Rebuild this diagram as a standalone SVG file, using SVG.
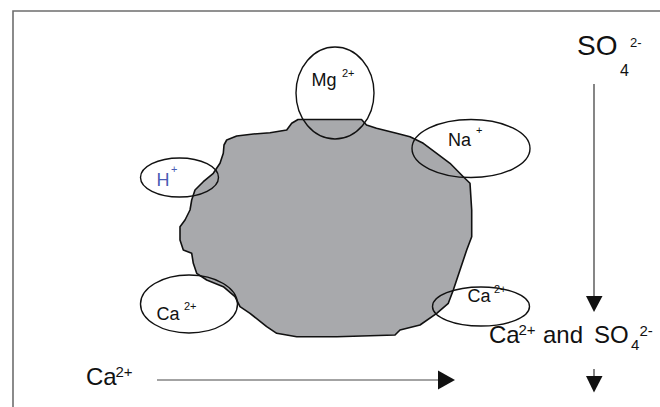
<svg xmlns="http://www.w3.org/2000/svg" width="660" height="407" viewBox="0 0 660 407">
  <style>
    text { font-family: "Liberation Sans", Arial, sans-serif; fill: #111; }
    .ion { fill: none; stroke: #111; stroke-width: 1.4; }
    .lbl { font-size: 18px; }
    .sup { font-size: 11px; }
    .big { font-size: 24px; }
    .bsup { font-size: 15px; }
    .frame { stroke: #6e6e6e; stroke-width: 1.6; fill: none; }
    .flow { stroke: #222; stroke-width: 1.1; }
    .flow-grey { stroke: #858585; stroke-width: 1.6; }
    .head { fill: #111; }
  </style>

  <!-- outer frame (top and left edges) -->
  <path class="frame" d="M13,407 L13,11 L660,11"/>

  <!-- particle surface -->
  <g id="particle">
    <path d="M298,119.5 L361.5,119.5 L366.5,125 L376.5,128.3 L396.5,133.3 L410,136.7 L423.3,143.3 L436.7,153.3 L450,163.3 L463.3,176.7 L470,183.3 L471.7,210 L471.7,236.7 L466.7,250 L460,270 L453.3,290 L448.3,303.3 L436.7,313.3 L420,325 L400,330 L395,335 L336.7,336.7 L296.7,336.7 L276.7,333.3 L266.7,326.7 L250,313.3 L240,306.7 L235,296.7 L223.3,286.7 L206.7,280 L196.7,273.3 L193.3,263.3 L191.7,253.3 L183.3,250 L180,240 L180,226.7 L185,220 L190,210 L191.7,200 L195,190 L203.3,181.7 L213.3,173.3 L220,163.3 L223.3,153.3 L224,145 L226.7,140 L236.7,136 L253.3,134 L270,132.7 L286.7,130 L291.7,123.3 Z" fill="#a8a9ac" stroke="#111" stroke-width="1.6" stroke-linejoin="round"/>
  </g>

  <!-- adsorbed cations -->
  <g id="ion-mg">
    <ellipse class="ion" cx="335" cy="93" rx="39" ry="46"/>
    <text class="lbl" x="311.5" y="86">Mg</text>
    <text class="sup" x="342" y="77">2+</text>
  </g>
  <g id="ion-na">
    <ellipse class="ion" cx="471" cy="148.5" rx="59" ry="29"/>
    <text class="lbl" x="448" y="145.5">Na</text>
    <text class="sup" x="476" y="134">+</text>
  </g>
  <g id="ion-h">
    <ellipse class="ion" cx="179.5" cy="177.5" rx="39" ry="19.5"/>
    <text class="lbl" x="156.5" y="185.5" style="fill:#4a5cb4">H</text>
    <text class="sup" x="171" y="173" style="fill:#4a5cb4">+</text>
  </g>
  <g id="ion-ca-left">
    <ellipse class="ion" cx="189" cy="304" rx="48.5" ry="29"/>
    <text class="lbl" x="156.5" y="320">Ca</text>
    <text class="sup" x="184" y="310">2+</text>
  </g>
  <g id="ion-ca-right">
    <ellipse class="ion" cx="481" cy="306.5" rx="48.5" ry="19.5"/>
    <text class="lbl" x="467.5" y="301.5">Ca</text>
    <text class="sup" x="494" y="292.5">2+</text>
  </g>

  <!-- solution species -->
  <g id="sulfate-in">
    <text x="577" y="55" style="font-size:28px">SO</text>
    <text x="630" y="46.5" style="font-size:13px">2-</text>
    <text x="620" y="76" style="font-size:16px">4</text>
  </g>
  <g id="precipitate">
    <text class="big" x="489" y="342.5">Ca</text>
    <text class="bsup" x="518.5" y="334.5">2+</text>
    <text class="big" x="543" y="342.5">and</text>
    <text class="big" x="594" y="342.5">SO</text>
    <text class="bsup" x="631" y="350">4</text>
    <text class="bsup" x="639.5" y="336">2-</text>
  </g>
  <g id="calcium-in">
    <text class="big" x="86" y="385">Ca</text>
    <text class="bsup" x="115.5" y="376.5">2+</text>
  </g>

  <!-- connectors -->
  <g id="connectors">
    <line class="flow" x1="594" y1="84" x2="594" y2="297"/>
    <polygon class="head" points="586,296 602.5,296 594,312"/>
    <line class="flow" x1="594" y1="369" x2="594" y2="377"/>
    <polygon class="head" points="586,376 602.5,376 594,392.5"/>
    <line class="flow-grey" x1="157" y1="380" x2="440" y2="380"/>
    <polygon class="head" points="438,370.5 438,389.5 455,380"/>
  </g>
</svg>
